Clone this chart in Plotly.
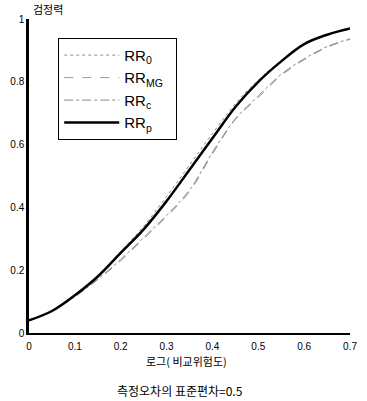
import plotly.graph_objects as go

x_vals = [0.0, 0.05, 0.1, 0.15, 0.2, 0.25, 0.3, 0.35, 0.4, 0.45, 0.5, 0.55, 0.6, 0.65, 0.7]
rr_p = [0.04, 0.07, 0.12, 0.18, 0.255, 0.33, 0.42, 0.52, 0.62, 0.72, 0.80, 0.865, 0.92, 0.95, 0.97]
rr_0 = [0.04, 0.07, 0.12, 0.182, 0.26, 0.34, 0.435, 0.535, 0.635, 0.73, 0.805, 0.868, 0.92, 0.95, 0.968]
rr_mg = [0.04, 0.07, 0.115, 0.17, 0.23, 0.30, 0.37, 0.45, 0.57, 0.68, 0.75, 0.82, 0.87, 0.91, 0.935]
rr_c = [0.04, 0.07, 0.116, 0.172, 0.234, 0.304, 0.375, 0.455, 0.575, 0.682, 0.755, 0.824, 0.873, 0.912, 0.937]

names = ["RR<sub>0</sub>", "RR<sub>MG</sub>&nbsp;&nbsp;", "RR<sub>c</sub>", "RR<sub>p</sub>"]
series = [rr_0, rr_mg, rr_c, rr_p]
styles = [
    dict(color="#888888", width=1, dash="dot"),
    dict(color="#999999", width=1, dash="dash"),
    dict(color="#888888", width=1, dash="dashdot"),
    dict(color="black", width=2.5, dash="solid"),
]

fig = go.Figure()
for i, (nm, ys, st) in enumerate(zip(names, series, styles)):
    fig.add_trace(go.Scatter(x=x_vals, y=ys, mode="lines", name=nm, line=dict(shape="spline", **st),
                             legendgroup=f"g{i}"))

font_fam = "Liberation Sans, Arial, Noto Sans CJK KR"
fig.update_layout(
    width=367, height=401,
    margin=dict(l=28, r=10, t=19, b=68),
    paper_bgcolor="white", plot_bgcolor="white",
    font=dict(family=font_fam, size=10, color="black"),
    showlegend=True,
    legend=dict(
        x=0.091, y=0.94, xanchor="left", yanchor="top",
        bordercolor="black", borderwidth=1, bgcolor="white",
        font=dict(size=15, family=font_fam),
        tracegroupgap=0, itemwidth=55,
    ),
    xaxis=dict(range=[0, 0.7], tickvals=[0, 0.1, 0.2, 0.3, 0.4, 0.5, 0.6, 0.7],
               ticktext=["0", "0.1", "0.2", "0.3", "0.4", "0.5", "0.6", "0.7"],
               showgrid=False, zeroline=False, showline=True, linecolor="black", linewidth=2,
               ticks="outside", ticklen=3, tickcolor="white"),
    yaxis=dict(range=[0, 1], tickvals=[0, 0.2, 0.4, 0.6, 0.8, 1],
               ticktext=["0", "0.2", "0.4", "0.6", "0.8", "1"],
               showgrid=False, zeroline=False, showline=True, linecolor="black", linewidth=2.5,
               ticks="", ticklen=0),
    annotations=[
        dict(text="검정력", xref="paper", yref="paper", x=0.0, y=1.0, xanchor="left", yanchor="bottom",
             xshift=2, yshift=0, showarrow=False, font=dict(size=11, family="Noto Sans CJK KR")),
        dict(text="로그( 비교위험도)", xref="paper", yref="paper", x=0.49, y=0, xanchor="center", yanchor="top",
             yshift=-18, showarrow=False, font=dict(size=11, family="Noto Sans CJK KR")),
        dict(text="측정오차의 표준편차=0.5", xref="paper", yref="paper", x=0.47, y=0, xanchor="center", yanchor="top",
             yshift=-47, showarrow=False, font=dict(size=12, family="Noto Sans CJK KR")),
    ],
)

fig.write_html("out.html")
